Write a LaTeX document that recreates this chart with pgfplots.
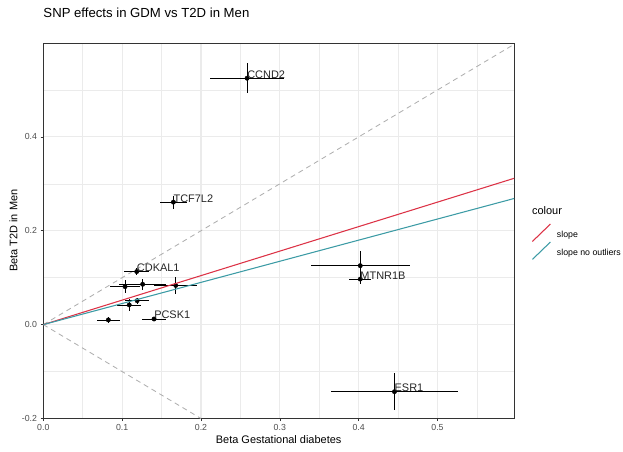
\documentclass[border=0pt]{standalone}
\usepackage{fontspec}
\setmainfont{Liberation Sans}
\usepackage{pgfplots}
\usepackage{pgfplotstable}
\pgfplotsset{compat=1.18}
\definecolor{slopered}{RGB}{220,50,70}
\definecolor{slopeteal}{RGB}{60,155,165}
\definecolor{gridgray}{RGB}{235,235,235}
\definecolor{gray20}{RGB}{51,51,51}
\definecolor{gray30}{RGB}{77,77,77}
\definecolor{gray70}{RGB}{175,175,175}

\pgfplotstableread{
x      y       xe     ye
0.2585 0.525   0.047  0.032
0.165  0.261   0.017  0.014
0.1185 0.113   0.016  0.007
0.1037 0.081   0.019  0.014
0.126  0.086   0.030  0.012
0.168  0.0835  0.027  0.018
0.119  0.051   0.0152 0.006
0.109  0.042   0.015  0.012
0.0825 0.010   0.015  0.006
0.1405 0.012   0.0155 0.005
0.402  0.1256  0.063  0.031
0.402  0.097   0.014  0.011
0.4454 -0.1429 0.080  0.039
}\snps

\begin{document}
\begin{tikzpicture}
\begin{axis}[
  scale only axis, width=470.7bp, height=375.5bp,
  xmin=0, xmax=0.597, ymin=-0.2, ymax=0.6,
  xtick={0,0.1,0.2,0.3,0.4,0.5},
  ytick={-0.2,0,0.2,0.4},
  minor xtick={0.05,0.15,0.25,0.35,0.45,0.55},
  minor ytick={-0.1,0.1,0.3,0.5},
  xtick pos=bottom, ytick pos=left,
  grid=both,
  major grid style={draw=gridgray, line width=1.07pt},
  minor grid style={draw=gridgray, line width=0.53pt},
  tick align=outside, major tick length=2.75bp, minor tick length=0pt,
  tick style={gray20, line width=0.6pt},
  axis line style={gray20, line width=0.6pt},
  xticklabel={\pgfmathprintnumber[fixed,fixed zerofill,precision=1,assume math mode=true]{\tick}},
  yticklabel={\pgfmathprintnumber[fixed,fixed zerofill,precision=1,assume math mode=true]{\tick}},
  ticklabel style={font=\fontsize{8.8}{10}\selectfont, text=gray30},
  xlabel={Beta Gestational diabetes},
  ylabel={Beta T2D in Men},
  label style={font=\fontsize{11}{13}\selectfont},
  xlabel style={at={([yshift=-24.5bp]axis description cs:0.5,0)}, anchor=base},
  ylabel style={at={([xshift=-26bp]axis description cs:0,0.5)}, anchor=base},
  title={SNP effects in GDM vs T2D in Men},
  title style={at={([yshift=20bp]axis description cs:0,1)}, anchor=base west, inner sep=0pt, font=\fontsize{13.2}{15}\selectfont},
  clip mode=individual,
  legend style={at={(axis description cs:1.038,0.5193)}, anchor=north west, draw=none, fill=none,
    inner sep=0pt, outer sep=0pt, row sep=-0.5bp, column sep=6bp,
    font=\fontsize{8.8}{10}\selectfont, nodes={inner sep=0pt}},
  legend cell align=left,
  legend image code/.code={\draw[#1] (0bp,-6.2bp) -- (18bp,11.2bp);},
]
\addplot[gray70, line width=0.85pt, dash pattern=on 5bp off 4bp, forget plot] coordinates {(0,0) (0.6,0.6)};
\addplot[gray70, line width=0.85pt, dash pattern=on 5bp off 4bp, forget plot] coordinates {(0,0) (0.2,-0.2)};
\addplot[only marks, mark=*, mark size=2.2bp, black, forget plot,
  error bars/.cd, x dir=both, x explicit, y dir=both, y explicit, error mark=none,
  error bar style={line width=0.8pt, black}]
  table[x=x, y=y, x error=xe, y error=ye] {\snps};
\addplot[slopered, line width=1.07pt] coordinates {(0,0) (0.6,0.3132)};
\addlegendentry{slope}
\addplot[slopeteal, line width=1.07pt] coordinates {(0,0) (0.6,0.270)};
\addlegendentry{slope no outliers}
\begin{scope}[every node/.style={anchor=base west, inner sep=0pt, font=\fontsize{11}{13}\selectfont, text=black!85}]
\node at (axis cs:0.2585,0.525) {CCND2};
\node at (axis cs:0.165,0.261) {TCF7L2};
\node at (axis cs:0.1185,0.113) {CDKAL1};
\node at (axis cs:0.402,0.097) {MTNR1B};
\node at (axis cs:0.1405,0.012) {PCSK1};
\node at (axis cs:0.4454,-0.1429) {ESR1};
\end{scope}
\node[anchor=base west, inner sep=0pt, font=\fontsize{11}{13}\selectfont] at (axis description cs:1.038,0.5446) {colour};
\end{axis}
\pgfresetboundingbox
\useasboundingbox (-43.3bp,-33.5bp) rectangle (579.7bp,418.5bp);
\end{tikzpicture}
\end{document}
